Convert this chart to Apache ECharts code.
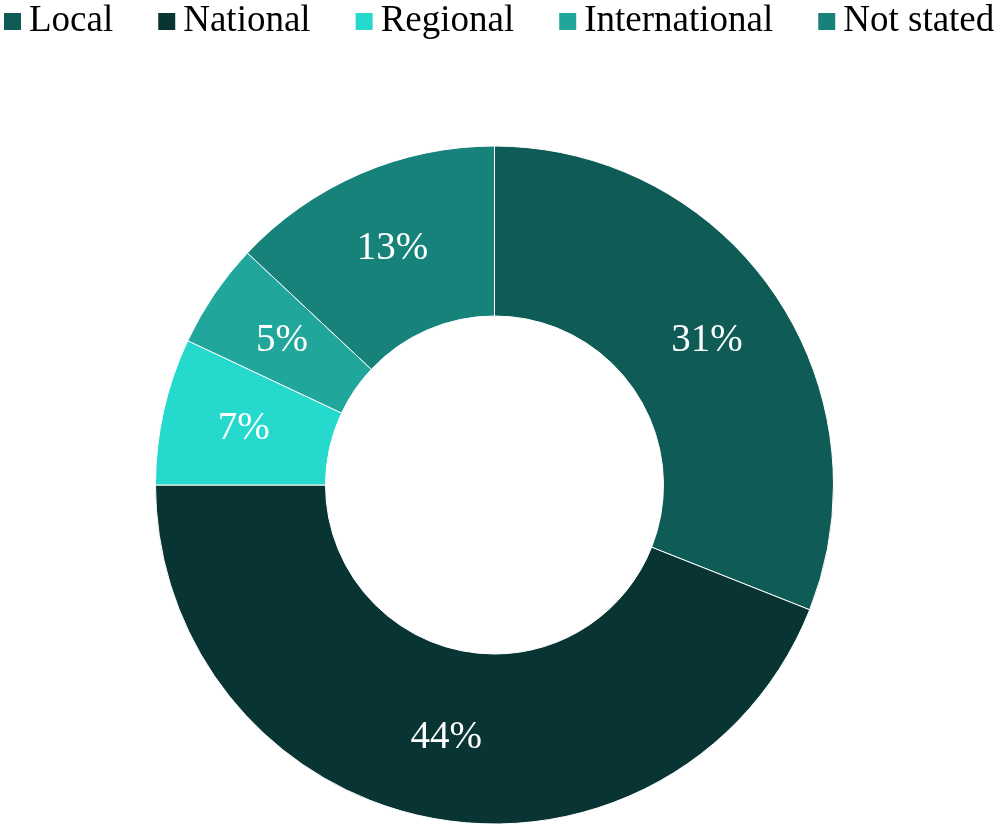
<!DOCTYPE html>
<html>
<head>
<meta charset="utf-8">
<style>
  html, body { margin: 0; padding: 0; background: #fff; }
  #chart { width: 1004px; height: 826px; }
</style>
<script src="https://cdn.jsdelivr.net/npm/echarts@6/dist/echarts.min.js"></script>
</head>
<body>
<div id="chart"></div>
<script>
// categories and shares (%)
var categories = ["Local", "National", "Regional", "International", "Not stated"];
var shares = [31, 44, 7, 5, 13];
var colours = ["#0f5c56", "#083433", "#25d9cc", "#20a69a", "#17827a"];

var chart = echarts.init(document.getElementById("chart"));

var pieData = categories.map(function (name, i) {
    return { name: name, value: shares[i], itemStyle: { color: colours[i] } };
});

chart.setOption({
    animation: false,
    legend: {
        top: 3,
        left: 2,
        padding: 0,
        width: 1100,
        itemWidth: 19,
        itemHeight: 19,
        itemGap: 43,
        icon: "rect",
        data: categories,
        textStyle: {
            fontFamily: "Liberation Serif",
            fontSize: 37,
            color: "#000",
            padding: [0, 0, 0, 2]
        }
    },
    series: [{
        type: "pie",
        center: [494.5, 485],
        radius: [169, 339],
        startAngle: 90,
        clockwise: true,
        itemStyle: { borderColor: "#fff", borderWidth: 1 },
        label: {
            show: true,
            position: "inside",
            formatter: "{c}%",
            color: "#fff",
            fontFamily: "Liberation Serif",
            fontSize: 39
        },
        labelLine: { show: false },
        emphasis: { disabled: true },
        data: pieData
    }]
});
</script>
</body>
</html>
